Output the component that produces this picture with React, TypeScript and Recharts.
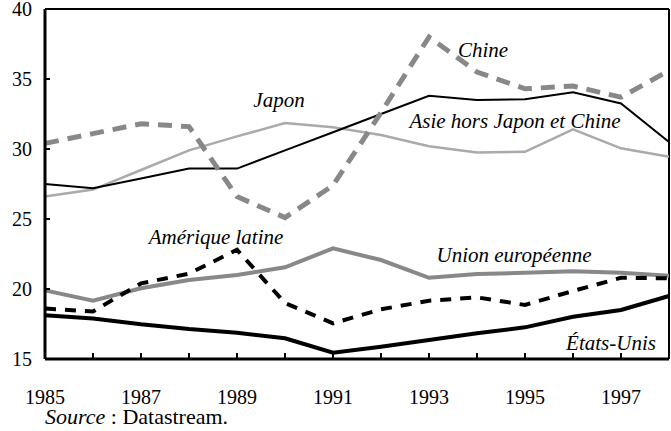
import { LineChart, Line, XAxis, YAxis, ReferenceLine } from 'recharts'

const years = [1985, 1986, 1987, 1988, 1989, 1990, 1991, 1992, 1993, 1994, 1995, 1996, 1997, 1998]
const japon = [27.5, 27.2, 27.9, 28.6, 28.6, 29.9, 31.2, 32.5, 33.8, 33.5, 33.55, 34.05, 33.25, 30.5]
const asie = [26.6, 27.1, 28.5, 29.9, 30.9, 31.85, 31.55, 31.0, 30.2, 29.75, 29.8, 31.4, 30.05, 29.45]
const chine = [30.4, 31.1, 31.8, 31.6, 26.6, 25.1, 27.4, 32.6, 38.0, 35.5, 34.3, 34.5, 33.7, 35.6]
const ue = [19.9, 19.16, 20.05, 20.64, 21.0, 21.55, 22.9, 22.07, 20.8, 21.07, 21.16, 21.26, 21.16, 20.95]
const ameriqueLatine = [18.6, 18.4, 20.4, 21.1, 22.8, 19.0, 17.55, 18.55, 19.16, 19.4, 18.86, 19.86, 20.8, 20.76]
const etatsUnis = [18.12, 17.9, 17.48, 17.14, 16.88, 16.48, 15.45, 15.88, 16.36, 16.84, 17.26, 18.02, 18.5, 19.5]

const yTicks = [15, 20, 25, 30, 35, 40]

const data = years.map((year, i) => ({
  year,
  japon: japon[i],
  asie: asie[i],
  chine: chine[i],
  ue: ue[i],
  ameriqueLatine: ameriqueLatine[i],
  etatsUnis: etatsUnis[i],
}))

const FONT = "'Liberation Serif', 'Times New Roman', serif"

// étiquettes en italique posées sur le graphique
const labels = [
  { text: 'Japon', x: 279, y: 107 },
  { text: 'Chine', x: 483, y: 57 },
  { text: 'Asie hors Japon et Chine', x: 515, y: 128 },
  { text: 'Amérique latine', x: 216, y: 244 },
  { text: 'Union européenne', x: 514, y: 262 },
  { text: 'États-Unis', x: 611, y: 350 },
]

export default function App() {
  return (
    <div style={{ position: 'absolute', left: 0, top: 0, width: 671, height: 431, background: '#fff', fontFamily: FONT }}>
      <LineChart width={671} height={431} data={data} margin={{ top: 9, right: 2, left: 0, bottom: 22 }}>
        <XAxis
          dataKey="year"
          type="number"
          domain={[1985, 1998]}
          ticks={years}
          interval={0}
          tickFormatter={(v: number) => (v % 2 === 1 && v < 1998 ? String(v) : '')}
          tickSize={-6}
          tickMargin={37}
          height={50}
          axisLine={{ stroke: '#000', strokeWidth: 3 }}
          tickLine={{ stroke: '#000', strokeWidth: 2 }}
          tick={{ fill: '#000', fontSize: 20, fontFamily: FONT }}
        />
        <YAxis
          type="number"
          domain={[15, 40]}
          ticks={yTicks}
          interval={0}
          width={45}
          tickSize={-5}
          tickMargin={18}
          axisLine={{ stroke: '#000', strokeWidth: 3 }}
          tickLine={{ stroke: '#000', strokeWidth: 2 }}
          tick={{ fill: '#000', fontSize: 20, fontFamily: FONT }}
        />
        <ReferenceLine y={40} stroke="#000" strokeWidth={2} />
        <ReferenceLine x={1998} stroke="#000" strokeWidth={2} />
        <Line dataKey="asie" stroke="#aaaaaa" strokeWidth={2.5} dot={false} isAnimationActive={false} />
        <Line dataKey="japon" stroke="#000" strokeWidth={2} dot={false} isAnimationActive={false} />
        <Line dataKey="chine" stroke="#888888" strokeWidth={5} strokeDasharray="14 9" dot={false} isAnimationActive={false} />
        <Line dataKey="ue" stroke="#888888" strokeWidth={4} dot={false} isAnimationActive={false} />
        <Line dataKey="ameriqueLatine" stroke="#000" strokeWidth={4} strokeDasharray="11 9" dot={false} isAnimationActive={false} />
        <Line dataKey="etatsUnis" stroke="#000" strokeWidth={4} dot={false} isAnimationActive={false} />
        {labels.map((l) => (
          <text key={l.text} x={l.x} y={l.y} textAnchor="middle" style={{ fontFamily: FONT, fontSize: 21, fontStyle: 'italic' }} fill="#000">
            {l.text}
          </text>
        ))}
        <text x={45} y={424} style={{ fontFamily: FONT, fontSize: 22 }} fill="#000">
          <tspan style={{ fontStyle: 'italic' }}>Source</tspan> : Datastream.
        </text>
      </LineChart>
    </div>
  )
}
